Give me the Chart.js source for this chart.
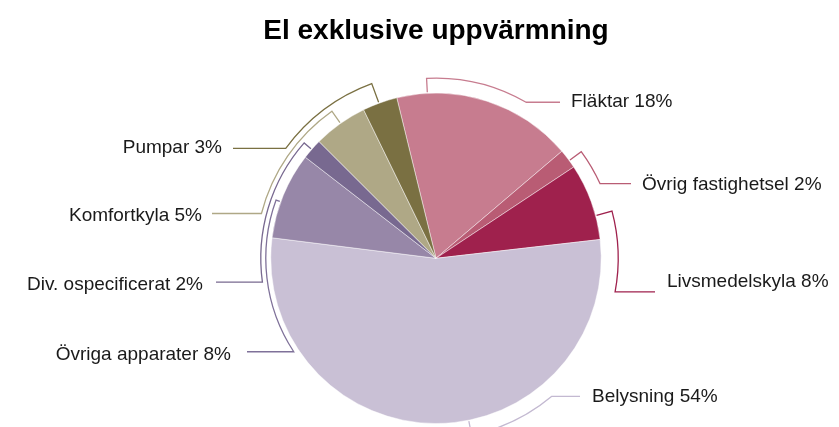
<!DOCTYPE html>
<html>
<head>
<meta charset="utf-8">
<title>El exklusive uppvärmning</title>
<script src="https://cdn.jsdelivr.net/npm/chart.js@4.4.1/dist/chart.umd.min.js"></script>
<style>
    html, body { margin: 0; padding: 0; background: #fff; }
</style>
</head>
<body>
<canvas id="chart" width="839" height="427"></canvas>
<script>
// data, clockwise from the top
const categories = ['Fläktar', 'Övrig fastighetsel', 'Livsmedelskyla', 'Belysning', 'Övriga apparater', 'Div. ospecificerat', 'Komfortkyla', 'Pumpar'];
const shares = [17.6, 1.9, 7.5, 53.8, 8.5, 2.0, 5.3, 3.4];
const shareLabels = ['18%', '2%', '8%', '54%', '8%', '2%', '5%', '3%'];

const sliceColors = ['#c77c8f', '#b95c74', '#9f214d', '#c9c0d5', '#9787a8', '#786990', '#afa886', '#7a7042'];
const lineColors = ['#c77c8f', '#b95c74', '#9f214d', '#c3b9d1', '#7f7199', '#786990', '#afa886', '#7a7042'];

// callout brackets: angles in degrees clockwise from top, gap = distance outside the pie,
// lineTo / textX / textY relative to the pie centre
const callouts = [
    { gap: 15, from: -3, to: 30, lineTo: 124, textX: 135, textY: -157 },
    { gap: 15, from: 53.7, to: 65.5, lineTo: 195, textX: 206, textY: -74 },
    { gap: 17, from: 75, to: 100.6, lineTo: 219, textX: 231, textY: 23 },
    { gap: 15, from: 168.6, to: 140, lineTo: 144, textX: 156, textY: 138 },
    { gap: 5, from: -70, to: -123.3, lineTo: -189, textX: -205, textY: 96 },
    { gap: 10, from: -48.8, to: -97.8, lineTo: -220, textX: -233, textY: 26 },
    { gap: 15, from: -35.3, to: -75.6, lineTo: -224, textX: -234, textY: -43 },
    { gap: 21, from: -20.2, to: -53.8, lineTo: -203, textX: -214, textY: -111 }
];

const calloutPlugin = {
    id: 'callouts',
    afterDraw(chart) {
        const arc0 = chart.getDatasetMeta(0).data[0];
        const cx = arc0.x, cy = arc0.y, R = arc0.outerRadius;
        const ctx = chart.ctx;
        const rad = d => (d - 90) * Math.PI / 180;
        ctx.save();
        callouts.forEach((c, i) => {
            const r = R + c.gap;
            const a1 = rad(c.from), a2 = rad(c.to);
            const ey = cy + r * Math.sin(a2);
            ctx.strokeStyle = lineColors[i];
            ctx.lineWidth = 1.3;
            ctx.beginPath();
            ctx.moveTo(cx + (R + 1) * Math.cos(a1), cy + (R + 1) * Math.sin(a1));
            ctx.arc(cx, cy, r, a1, a2, c.to < c.from);
            ctx.lineTo(cx + c.lineTo, ey);
            ctx.stroke();

            ctx.fillStyle = '#1a1a1a';
            ctx.font = '19px "Liberation Sans", Arial, sans-serif';
            ctx.textBaseline = 'middle';
            ctx.textAlign = c.lineTo > 0 ? 'left' : 'right';
            ctx.fillText(`${categories[i]} ${shareLabels[i]}`, cx + c.textX, cy + c.textY);
        });
        ctx.restore();
    }
};

new Chart(document.getElementById('chart'), {
    type: 'pie',
    data: {
        labels: categories,
        datasets: [{
            data: shares,
            backgroundColor: sliceColors,
            borderColor: 'rgba(255, 255, 255, 0.45)',
            borderWidth: 1
        }]
    },
    options: {
        responsive: false,
        animation: false,
        rotation: -13.74,
        layout: {
            padding: { left: 33, right: 0, top: 0, bottom: 3 }
        },
        plugins: {
            legend: { display: false },
            tooltip: { enabled: false },
            title: {
                display: true,
                text: 'El exklusive uppvärmning',
                color: '#000',
                font: { family: '"Liberation Sans", Arial, sans-serif', size: 28, weight: 'bold' },
                padding: { top: 14, bottom: 45 }
            }
        }
    },
    plugins: [calloutPlugin]
});
</script>
</body>
</html>
